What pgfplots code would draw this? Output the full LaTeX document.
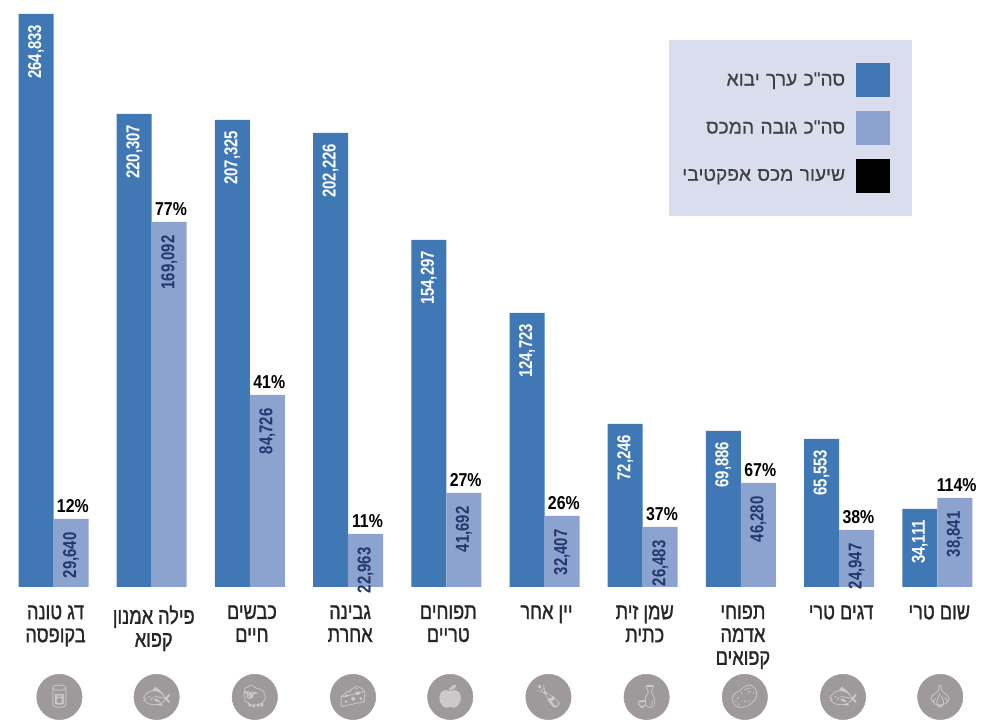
\documentclass[border=0pt]{standalone}
\usepackage{fontspec}
\usepackage{pgfplots}
\usepackage{pgfplotstable}
\pgfplotsset{compat=1.18}
\TeXXeTstate=1
\newfontfamily\hefont[Script=Hebrew,FakeStretch=0.8,FakeBold=1.2]{Liberation Sans}
\newfontfamily\legfont[Script=Hebrew,FakeBold=0.3]{Liberation Sans}
\newfontfamily\numfont[FakeStretch=0.8]{Liberation Sans}
\newfontfamily\pctfont[FakeStretch=0.85]{Liberation Sans}
\newfontfamily\emojifont{Noto Emoji}
\definecolor{darkbar}{RGB}{63,120,181}
\definecolor{lightbar}{RGB}{141,163,207}
\definecolor{legendbg}{RGB}{218,221,238}
\definecolor{iconbg}{RGB}{158,153,155}
\definecolor{iconfg}{RGB}{205,201,203}
\definecolor{lightnum}{RGB}{35,55,110}

% x, import (bar height, printed label), tax (bar height, printed label), rate
\pgfplotstableread{
x dark darklab   light lightlab pct
0 264833 264,833 31416 29,640   12
1 218526 220,307 168630 169,092 77
2 215754 207,325 88704 84,726   41
3 209748 202,226 24486 22,963   11
4 160314 154,297 43428 41,692   27
5 126588 124,723 32802 32,407   26
6 75306  72,246  27720 26,483   37
7 72072  69,886  48048 46,280   67
8 68376  65,553  26334 24,947   38
9 36036  34,111  41118 38,841   114
}\datatable

\begin{document}
\begin{tikzpicture}
\path[use as bounding box] (0,0) rectangle (735.75pt,543pt);
\begin{axis}[
    at={(0pt,102.75pt)},
    anchor=south west,
    scale only axis,
    width=735.75pt,
    height=440.25pt,
    xmin=-0.545,
    xmax=9.445,
    ymin=0,
    ymax=271194,
    clip=false,
    ybar,
    bar width=26.25pt,
    axis line style={draw=none},
    tick style={draw=none},
    ymajorticks=false,
    xtick={0,...,9},
    xticklabels={
        {\beginR דג טונה\endR\\\beginR בקופסה\endR},
        {\beginR פילה אמנון\endR\\\beginR קפוא\endR},
        {\beginR כבשים\endR\\\beginR חיים\endR},
        {\beginR גבינה\endR\\\beginR אחרת\endR},
        {\beginR תפוחים\endR\\\beginR טריים\endR},
        {\beginR יין אחר\endR},
        {\beginR שמן זית\endR\\\beginR כתית\endR},
        {\beginR תפוחי\endR\\\beginR אדמה\endR\\\beginR קפואים\endR},
        {\beginR דגים טרי\endR},
        {\beginR שום טרי\endR},
    },
    xticklabel style={
        font=\hefont\fontsize{17pt}{17.2pt}\selectfont,
        align=center,
        anchor=north,
        xshift=1.5pt,
        yshift=-6pt,
        text=black!85,
    },
    legend style={
        at={(0.9297,0.9319)},
        anchor=north east,
        draw=none,
        fill=legendbg,
        inner xsep=10pt,
        inner ysep=17pt,
        row sep=10.5pt,
        font=\legfont\fontsize{14.4pt}{15pt}\selectfont,
        text=black!75,
        nodes={inner sep=0pt,text width=122.25pt,align=right},
        /tikz/every odd column/.append style={column sep=8pt},
    },
    legend cell align=right,
    legend plot pos=right,
]

\addplot[fill=darkbar,draw=none,bar shift=-13.125pt,
    legend image code/.code={\path[draw=none,fill=none] (0pt,0pt) rectangle (32pt,0pt);\fill[darkbar,draw=none] (0pt,-12.75pt) rectangle (25.5pt,12.75pt);},
    point meta=explicit symbolic,
    nodes near coords={\numfont\bfseries\fontsize{14pt}{14pt}\selectfont\pgfplotspointmeta},
    every node near coord/.style={xshift=-13.125pt,yshift=-8pt,rotate=90,anchor=east,text=white,inner sep=0pt},
] table[x=x,y=dark,meta=darklab] {\datatable};
\addlegendentry{\beginR סה"כ ערך יבוא\endR}

\addplot[fill=lightbar,draw=none,bar shift=13.125pt,
    legend image code/.code={\path[draw=none,fill=none] (0pt,0pt) rectangle (32pt,0pt);\fill[lightbar,draw=none] (0pt,-12.75pt) rectangle (25.5pt,12.75pt);},
    point meta=explicit symbolic,
    nodes near coords={\numfont\bfseries\fontsize{14pt}{14pt}\selectfont\pgfplotspointmeta},
    every node near coord/.style={xshift=13.125pt,yshift=-10pt,rotate=90,anchor=east,text=lightnum,inner sep=0pt},
] table[x=x,y=light,meta=lightlab] {\datatable};
\addlegendentry{\beginR סה"כ גובה המכס\endR}

\addplot[fill=none,draw=none,bar shift=13.125pt,
    legend image code/.code={\path[draw=none,fill=none] (0pt,0pt) rectangle (32pt,0pt);\fill[black,draw=none] (0pt,-12.75pt) rectangle (25.5pt,12.75pt);},
    point meta=explicit symbolic,
    nodes near coords={\pctfont\bfseries\fontsize{14pt}{14pt}\selectfont\pgfplotspointmeta\%},
    every node near coord/.style={xshift=14.5pt,anchor=south,text=black,inner sep=0pt,yshift=4.5pt},
] table[x=x,y=light,meta=pct] {\datatable};
\addlegendentry{\beginR שיעור מכס אפקטיבי\endR}

% row of round icons under the labels
\addplot[forget plot,only marks,mark=*,mark size=17pt,
    mark options={fill=iconbg,draw=iconbg},
    point meta=explicit symbolic,
    nodes near coords={\emojifont\fontsize{17pt}{17pt}\selectfont\pgfplotspointmeta},
    every node near coord/.style={anchor=center,text=iconfg,inner sep=0pt},
] coordinates {
    (0.06,-50800) [^^^^^^01f96b]
    (1.05,-50800) [^^^^^^01f41f]
    (2.05,-50800) [^^^^^^01f411]
    (3.05,-50800) [^^^^^^01f9c0]
    (4.04,-50800) [^^^^^^01f34e]
    (5.04,-50800) [^^^^^^01f37e]
    (6.04,-50800) [^^^^^^01f376]
    (7.04,-50800) [^^^^^^01f954]
    (8.04,-50800) [^^^^^^01f41f]
    (9.03,-50800) [^^^^^^01f9c4]
};
\end{axis}
\end{tikzpicture}
\end{document}
